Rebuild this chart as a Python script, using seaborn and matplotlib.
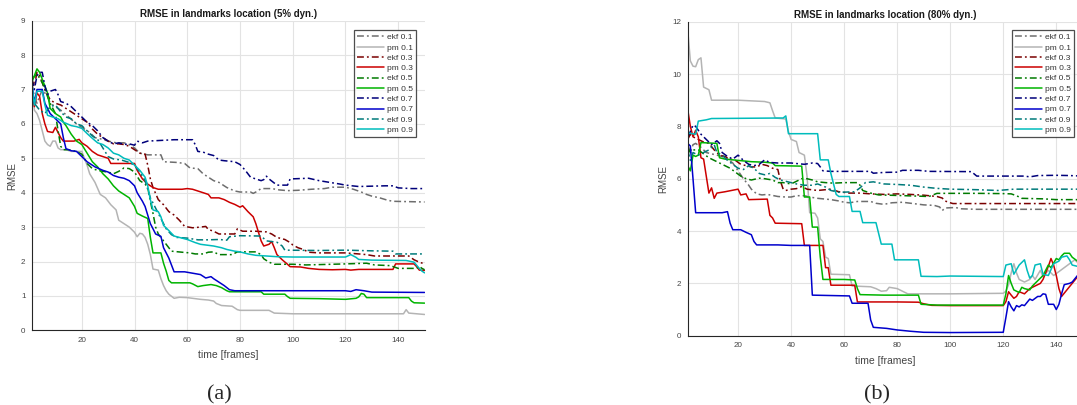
import matplotlib.pyplot as plt
import pandas as pd
import seaborn as sns

# (frame, rmse) points -- (a) 5% dynamic scene
a_ekf01 = [(1, 7.2), (2, 6.8), (3, 6.6), (5, 7.0), (7, 6.8), (8, 6.6), (10, 6.5), (12, 6.4), (15, 6.2), (18, 6.0),
           (20, 5.9), (23, 5.75), (25, 5.6), (28, 5.55), (30, 5.5), (33, 5.45), (36, 5.45), (38, 5.4), (40, 5.3),
           (42, 5.15), (45, 5.1), (50, 5.1), (51, 4.9), (56, 4.88), (59, 4.85), (61, 4.72), (64, 4.7), (66, 4.55),
           (68, 4.45), (70, 4.35), (72, 4.3), (75, 4.15), (78, 4.05), (80, 4.02), (84, 4.02), (85, 3.98), (86, 4.02),
           (88, 4.12), (92, 4.12), (95, 4.08), (98, 4.06), (102, 4.07), (107, 4.1), (112, 4.12), (115, 4.16),
           (120, 4.16), (123, 4.1), (126, 4.02), (128, 3.95), (130, 3.9), (133, 3.85), (136, 3.78), (138, 3.75),
           (150, 3.73)]
a_pm01 = [(1, 7.6), (2, 6.4), (3, 6.3), (4, 6.1), (5, 5.8), (6, 5.5), (7, 5.4), (8, 5.35), (9, 5.5), (10, 5.5),
          (11, 5.3), (12, 5.25), (14, 5.25), (16, 5.2), (20, 5.2), (21, 5.0), (22, 4.8), (23, 4.55), (25, 4.3),
          (27, 3.95), (29, 3.85), (31, 3.65), (33, 3.5), (34, 3.2), (36, 3.1), (38, 3.0), (40, 2.85), (41, 2.72),
          (42, 2.82), (43, 2.8), (44, 2.7), (45, 2.5), (46, 2.2), (47, 1.78), (49, 1.75), (50, 1.5), (51, 1.3),
          (52, 1.15), (53, 1.05), (55, 0.93), (57, 0.96), (60, 0.95), (63, 0.92), (65, 0.9), (68, 0.88), (70, 0.85),
          (71, 0.78), (73, 0.72), (77, 0.7), (79, 0.6), (80, 0.58), (91, 0.58), (93, 0.5), (100, 0.48), (142, 0.48),
          (143, 0.6), (144, 0.5), (150, 0.46)]
a_ekf03 = [(1, 7.3), (2, 7.1), (3, 7.5), (4, 7.4), (5, 7.2), (6, 7.0), (8, 6.7), (10, 6.6), (12, 6.55), (14, 6.45),
           (16, 6.35), (18, 6.25), (20, 6.15), (22, 6.05), (24, 5.85), (26, 5.7), (28, 5.6), (30, 5.5), (32, 5.42),
           (34, 5.42), (36, 5.4), (38, 5.35), (40, 5.25), (42, 5.15), (44, 5.12), (45, 4.8), (46, 4.4), (47, 4.15),
           (49, 3.8), (51, 3.65), (53, 3.45), (55, 3.35), (57, 3.2), (59, 3.02), (62, 2.98), (65, 3.0), (67, 3.02),
           (68, 2.93), (70, 2.88), (72, 2.8), (78, 2.8), (79, 2.95), (81, 2.88), (86, 2.88), (90, 2.86), (92, 2.8),
           (94, 2.7), (97, 2.64), (99, 2.55), (100, 2.48), (102, 2.4), (104, 2.35), (106, 2.27), (110, 2.25),
           (120, 2.25), (125, 2.22), (128, 2.2), (131, 2.16), (144, 2.16), (146, 2.05), (148, 1.98), (150, 1.93)]
a_pm03 = [(1, 7.0), (2, 6.5), (3, 6.9), (4, 6.8), (5, 6.3), (6, 6.0), (7, 5.78), (9, 5.75), (10, 5.9), (11, 5.75),
          (12, 5.6), (13, 5.5), (17, 5.5), (19, 5.55), (20, 5.45), (22, 5.35), (24, 5.2), (26, 5.1), (28, 5.05),
          (30, 5.0), (31, 4.85), (40, 4.85), (41, 4.65), (43, 4.4), (45, 4.25), (47, 4.15), (49, 4.1), (58, 4.1),
          (60, 4.12), (62, 4.1), (64, 4.05), (66, 4.0), (68, 3.95), (69, 3.85), (72, 3.85), (74, 3.8), (76, 3.72),
          (78, 3.66), (80, 3.58), (81, 3.62), (83, 3.45), (85, 3.3), (86, 3.1), (87, 2.85), (88, 2.6), (89, 2.45),
          (91, 2.5), (92, 2.58), (93, 2.4), (94, 2.2), (96, 2.05), (98, 1.92), (99, 1.85), (103, 1.84), (106, 1.8),
          (110, 1.77), (115, 1.76), (120, 1.77), (122, 1.75), (125, 1.77), (138, 1.77), (139, 1.93), (146, 1.93),
          (147, 1.85), (148, 1.75), (150, 1.74)]
a_ekf05 = [(1, 7.3), (3, 7.45), (5, 7.2), (6, 7.0), (7, 6.8), (8, 6.6), (10, 6.3), (11, 5.8), (12, 5.35), (13, 5.25),
           (15, 5.25), (18, 5.2), (20, 5.12), (21, 5.0), (22, 4.85), (24, 4.7), (26, 4.65), (28, 4.62), (30, 4.6),
           (32, 4.55), (34, 4.62), (36, 4.72), (38, 4.7), (40, 4.6), (42, 4.35), (44, 4.25), (45, 4.15), (46, 3.75),
           (47, 3.4), (48, 3.0), (49, 2.8), (51, 2.6), (53, 2.4), (54, 2.3), (58, 2.27), (61, 2.25), (63, 2.22),
           (66, 2.22), (68, 2.27), (70, 2.28), (72, 2.2), (77, 2.2), (79, 2.28), (86, 2.28), (88, 2.2), (89, 2.08),
           (91, 1.98), (93, 1.92), (100, 1.92), (105, 1.9), (115, 1.92), (120, 1.93), (128, 1.95), (131, 1.9),
           (137, 1.88), (140, 1.8), (147, 1.8), (148, 1.86), (149, 1.8), (150, 1.76)]
a_pm05 = [(1, 7.2), (2, 7.4), (3, 7.6), (4, 7.5), (5, 7.3), (6, 7.1), (7, 6.9), (8, 6.45), (10, 6.3), (12, 6.2),
          (13, 6.05), (14, 5.95), (16, 5.7), (18, 5.5), (20, 5.4), (22, 5.15), (24, 4.9), (26, 4.75), (28, 4.55),
          (30, 4.4), (32, 4.2), (34, 4.05), (36, 3.95), (38, 3.85), (40, 3.6), (41, 3.4), (43, 3.32), (45, 3.25),
          (46, 2.7), (47, 2.25), (50, 2.25), (51, 1.95), (52, 1.72), (53, 1.45), (54, 1.38), (61, 1.38), (62, 1.35),
          (64, 1.27), (66, 1.3), (69, 1.33), (71, 1.3), (73, 1.24), (75, 1.15), (76, 1.12), (88, 1.12), (89, 1.05),
          (97, 1.05), (98, 0.98), (99, 0.93), (110, 0.92), (120, 0.9), (124, 0.93), (125, 0.97), (126, 1.07),
          (127, 1.05), (128, 0.95), (144, 0.95), (145, 0.85), (146, 0.8), (150, 0.79)]
a_ekf07 = [(1, 7.3), (2, 7.0), (3, 7.4), (4, 7.5), (5, 7.5), (6, 7.1), (7, 6.85), (8, 6.95), (10, 7.0), (11, 6.85),
           (12, 6.65), (14, 6.6), (16, 6.5), (18, 6.35), (20, 6.2), (22, 6.05), (24, 5.95), (26, 5.8), (28, 5.6),
           (30, 5.5), (32, 5.42), (34, 5.45), (36, 5.4), (38, 5.42), (40, 5.38), (41, 5.5), (43, 5.45), (45, 5.5),
           (50, 5.52), (55, 5.54), (62, 5.54), (63, 5.4), (64, 5.2), (66, 5.18), (68, 5.12), (70, 5.08), (72, 4.95),
           (74, 4.93), (78, 4.9), (80, 4.82), (82, 4.65), (84, 4.45), (86, 4.4), (88, 4.35), (89, 4.38), (90, 4.48),
           (91, 4.4), (93, 4.28), (94, 4.22), (98, 4.22), (99, 4.4), (106, 4.42), (110, 4.35), (114, 4.3),
           (118, 4.25), (120, 4.22), (125, 4.18), (130, 4.19), (135, 4.2), (138, 4.2), (140, 4.14), (145, 4.12),
           (150, 4.12)]
a_pm07 = [(1, 7.2), (2, 6.6), (3, 7.0), (5, 7.0), (6, 6.6), (8, 6.3), (10, 6.15), (12, 6.0), (13, 5.6), (14, 5.28),
          (16, 5.22), (18, 5.2), (20, 5.05), (22, 4.9), (25, 4.75), (28, 4.65), (30, 4.6), (32, 4.5), (34, 4.45),
          (36, 4.42), (38, 4.35), (40, 4.2), (41, 4.0), (43, 3.75), (44, 3.6), (45, 3.35), (46, 3.1), (47, 2.95),
          (48, 2.8), (50, 2.73), (51, 2.4), (52, 2.25), (53, 2.1), (54, 1.9), (55, 1.7), (59, 1.7), (62, 1.66),
          (65, 1.62), (67, 1.52), (69, 1.56), (70, 1.5), (72, 1.4), (74, 1.3), (76, 1.18), (78, 1.15), (100, 1.15),
          (120, 1.15), (122, 1.13), (124, 1.18), (127, 1.15), (130, 1.11), (150, 1.1)]
a_ekf09 = [(1, 7.0), (2, 6.6), (4, 6.4), (6, 6.3), (8, 6.5), (10, 6.55), (12, 6.35), (14, 6.2), (16, 6.15), (18, 6.0),
           (20, 5.95), (22, 5.8), (24, 5.65), (26, 5.55), (28, 5.3), (30, 5.05), (32, 4.98), (35, 4.95), (38, 4.88),
           (40, 4.8), (42, 4.6), (44, 4.35), (46, 3.85), (48, 3.55), (50, 3.25), (52, 2.95), (54, 2.78), (56, 2.7),
           (60, 2.68), (64, 2.63), (68, 2.63), (72, 2.64), (75, 2.62), (76, 2.72), (80, 2.75), (88, 2.74), (90, 2.6),
           (94, 2.56), (96, 2.45), (97, 2.33), (110, 2.32), (120, 2.33), (130, 2.31), (138, 2.3), (139, 2.22),
           (150, 2.22)]
a_pm09 = [(1, 7.2), (2, 6.55), (3, 6.95), (5, 6.95), (6, 6.55), (7, 6.25), (9, 6.2), (11, 6.15), (13, 6.05), (16, 5.95),
          (18, 5.92), (20, 5.87), (22, 5.72), (24, 5.58), (26, 5.45), (28, 5.4), (30, 5.3), (32, 5.15), (34, 5.1),
          (36, 5.0), (38, 4.95), (40, 4.8), (42, 4.65), (44, 4.45), (45, 4.2), (46, 3.8), (47, 3.5), (49, 3.45),
          (50, 3.3), (51, 3.05), (53, 2.9), (55, 2.74), (58, 2.68), (60, 2.64), (63, 2.55), (65, 2.5), (70, 2.45),
          (73, 2.4), (75, 2.35), (78, 2.3), (80, 2.28), (83, 2.22), (86, 2.18), (90, 2.16), (94, 2.14), (100, 2.13),
          (120, 2.13), (122, 2.2), (124, 2.12), (125, 2.06), (130, 2.04), (143, 2.03), (146, 1.98), (148, 1.8),
          (149, 1.72), (150, 1.67)]

# (b) 80% dynamic scene
b_ekf01 = [(1, 7.3), (2, 7.0), (3, 7.3), (4, 7.35), (6, 7.2), (8, 7.0), (10, 6.95), (12, 6.9), (14, 6.85), (16, 6.75),
           (18, 6.6), (20, 6.3), (22, 6.0), (24, 5.75), (25, 5.6), (27, 5.42), (29, 5.38), (31, 5.4), (35, 5.32),
           (38, 5.3), (40, 5.3), (42, 5.35), (45, 5.35), (47, 5.3), (50, 5.25), (55, 5.2), (58, 5.15), (60, 5.1),
           (62, 5.08), (65, 5.13), (70, 5.13), (72, 5.06), (75, 5.02), (78, 5.08), (82, 5.1), (86, 5.05), (90, 5.0),
           (94, 4.98), (96, 4.92), (97, 4.78), (98, 4.88), (102, 4.9), (104, 4.85), (110, 4.83), (150, 4.83)]
b_pm01 = [(1, 11.7), (2, 10.5), (3, 10.3), (4, 10.28), (5, 10.55), (6, 10.62), (7, 9.5), (8, 9.45), (9, 9.4), (10, 9.0),
          (20, 9.0), (30, 8.95), (32, 8.9), (33, 8.6), (34, 8.32), (38, 8.28), (39, 7.8), (40, 7.5), (42, 7.42),
          (43, 7.0), (45, 6.9), (46, 6.1), (47, 4.7), (49, 4.68), (50, 4.5), (51, 3.7), (52, 3.6), (53, 3.0),
          (54, 2.95), (55, 2.35), (62, 2.33), (63, 1.9), (70, 1.87), (72, 1.8), (74, 1.7), (76, 1.72), (77, 1.85),
          (80, 1.8), (82, 1.7), (84, 1.6), (100, 1.6), (120, 1.62), (121, 1.7), (122, 1.95), (123, 2.4), (124, 2.75),
          (125, 2.4), (126, 2.15), (128, 2.05), (130, 2.15), (131, 2.3), (132, 2.15), (134, 2.5), (135, 2.25),
          (137, 2.5), (139, 2.3), (141, 2.45), (143, 2.6), (145, 2.75), (147, 2.9), (148, 2.8), (150, 2.85)]
b_ekf03 = [(1, 7.5), (2, 7.7), (3, 7.6), (5, 7.5), (7, 7.4), (9, 7.35), (11, 7.1), (13, 6.9), (15, 6.85), (17, 6.75),
           (19, 6.7), (21, 6.55), (23, 6.5), (25, 6.45), (27, 6.45), (29, 6.55), (31, 6.5), (33, 6.4), (35, 6.35),
           (36, 5.9), (37, 5.6), (38, 5.55), (40, 5.6), (42, 5.62), (44, 5.7), (46, 5.6), (50, 5.55), (55, 5.6),
           (58, 5.5), (62, 5.45), (66, 5.45), (70, 5.42), (75, 5.4), (80, 5.42), (85, 5.4), (90, 5.37), (95, 5.32),
           (97, 5.26), (98, 5.15), (100, 5.08), (101, 5.05), (150, 5.05)]
b_pm03 = [(1, 8.65), (2, 8.0), (3, 7.6), (4, 7.85), (5, 7.6), (6, 6.8), (7, 6.75), (8, 6.1), (9, 5.45), (10, 5.65),
          (11, 5.25), (12, 5.45), (15, 5.5), (20, 5.6), (21, 5.38), (23, 5.42), (24, 5.2), (31, 5.22), (32, 4.6),
          (33, 4.5), (34, 4.3), (44, 4.28), (45, 3.45), (52, 3.45), (53, 2.6), (54, 2.6), (55, 1.93), (64, 1.93),
          (65, 1.29), (80, 1.29), (88, 1.28), (90, 1.22), (93, 1.16), (100, 1.15), (120, 1.15), (121, 1.3),
          (122, 1.68), (123, 1.55), (124, 1.43), (125, 1.5), (126, 1.68), (128, 1.6), (130, 1.8), (132, 1.9),
          (134, 2.0), (135, 2.15), (136, 2.4), (137, 2.65), (138, 2.95), (139, 2.7), (140, 2.3), (141, 1.8),
          (142, 1.5), (144, 1.75), (146, 2.0), (148, 2.25), (150, 2.3)]
b_ekf05 = [(1, 7.2), (2, 7.0), (3, 7.1), (5, 7.1), (7, 6.95), (9, 6.8), (11, 6.7), (13, 6.6), (15, 6.5), (17, 6.4),
           (19, 6.25), (21, 6.1), (23, 6.0), (25, 5.95), (28, 6.02), (30, 6.0), (33, 5.95), (35, 5.85), (37, 5.85),
           (40, 5.8), (42, 5.9), (44, 6.0), (46, 6.0), (48, 5.95), (50, 5.88), (53, 5.85), (56, 5.83), (60, 5.85),
           (65, 5.85), (66, 5.75), (67, 5.55), (70, 5.45), (73, 5.38), (80, 5.36), (86, 5.34), (92, 5.32), (95, 5.44),
           (110, 5.44), (120, 5.43), (123, 5.42), (125, 5.35), (127, 5.25), (135, 5.23), (140, 5.2), (150, 5.2)]
b_pm05 = [(1, 6.5), (2, 6.3), (3, 6.9), (4, 6.85), (5, 6.9), (6, 7.38), (10, 7.36), (12, 7.35), (13, 6.8), (15, 6.75),
          (20, 6.7), (25, 6.65), (30, 6.63), (33, 6.6), (34, 6.5), (44, 6.48), (45, 5.3), (47, 5.3), (48, 4.15),
          (50, 4.15), (51, 3.0), (52, 2.15), (60, 2.15), (64, 2.13), (65, 1.8), (66, 1.57), (75, 1.55), (88, 1.55),
          (89, 1.2), (95, 1.17), (120, 1.17), (121, 1.6), (122, 2.3), (123, 2.0), (124, 1.75), (126, 1.65),
          (127, 1.85), (128, 1.8), (130, 1.75), (131, 1.9), (133, 2.1), (135, 2.3), (137, 2.7), (138, 2.6),
          (140, 2.95), (141, 2.9), (142, 3.05), (143, 3.15), (145, 3.15), (146, 3.0), (148, 2.85), (150, 2.8)]
b_ekf07 = [(1, 7.6), (2, 7.8), (3, 8.05), (4, 8.0), (6, 7.7), (8, 7.5), (10, 7.3), (12, 7.45), (13, 7.35), (14, 7.0),
           (16, 6.85), (18, 6.75), (20, 6.9), (22, 6.7), (24, 6.55), (26, 6.5), (28, 6.55), (30, 6.72), (32, 6.62),
           (35, 6.6), (40, 6.6), (45, 6.55), (48, 6.6), (50, 6.58), (51, 6.45), (52, 6.3), (55, 6.28), (70, 6.28),
           (71, 6.21), (75, 6.24), (80, 6.25), (82, 6.32), (88, 6.32), (92, 6.28), (108, 6.27), (110, 6.1),
           (128, 6.1), (130, 6.07), (133, 6.12), (140, 6.13), (145, 6.12), (150, 6.1)]
b_pm07 = [(1, 7.35), (2, 7.25), (3, 6.0), (4, 4.7), (14, 4.7), (16, 4.74), (17, 4.3), (18, 4.05), (21, 4.05),
          (23, 3.95), (25, 3.86), (26, 3.6), (27, 3.47), (35, 3.47), (40, 3.45), (47, 3.45), (48, 1.55), (62, 1.52),
          (63, 1.24), (69, 1.24), (70, 0.6), (71, 0.32), (76, 0.28), (80, 0.22), (85, 0.17), (90, 0.13), (100, 0.12),
          (120, 0.13), (121, 0.7), (122, 1.3), (123, 1.1), (124, 0.95), (125, 1.15), (126, 1.1), (127, 1.18),
          (128, 1.15), (130, 1.4), (131, 1.35), (133, 1.5), (134, 1.5), (135, 1.6), (136, 1.58), (137, 1.2),
          (139, 1.2), (140, 1.0), (141, 1.2), (142, 1.6), (143, 1.95), (145, 2.0), (146, 2.05), (148, 2.3),
          (150, 2.4)]
b_ekf09 = [(1, 7.1), (2, 6.7), (3, 7.0), (5, 6.9), (7, 7.0), (9, 7.1), (11, 7.3), (12, 7.0), (14, 6.9), (16, 6.7),
           (18, 6.55), (20, 6.4), (22, 6.35), (24, 6.5), (26, 6.4), (28, 6.2), (30, 6.15), (32, 6.2), (34, 6.05),
           (36, 5.95), (38, 5.9), (40, 5.85), (42, 5.8), (45, 5.75), (48, 5.75), (50, 5.8), (53, 5.68), (55, 5.55),
           (58, 5.48), (64, 5.5), (66, 5.65), (68, 5.85), (71, 5.88), (75, 5.8), (80, 5.78), (85, 5.75), (90, 5.68),
           (95, 5.63), (100, 5.6), (110, 5.58), (118, 5.55), (124, 5.6), (150, 5.6)]
b_pm09 = [(1, 7.75), (4, 7.7), (5, 8.2), (8, 8.25), (10, 8.3), (37, 8.32), (38, 8.4), (39, 7.72), (50, 7.72),
          (51, 6.72), (54, 6.72), (55, 6.2), (56, 5.8), (57, 5.4), (58, 5.32), (62, 5.32), (63, 4.75), (66, 4.75),
          (67, 4.32), (72, 4.32), (74, 3.5), (78, 3.5), (79, 2.9), (88, 2.9), (89, 2.27), (95, 2.26), (100, 2.28),
          (110, 2.27), (120, 2.26), (121, 2.7), (123, 2.75), (124, 2.35), (126, 2.7), (128, 2.9), (129, 2.5),
          (130, 2.2), (131, 2.3), (132, 2.7), (134, 2.75), (135, 2.35), (137, 2.3), (139, 2.75), (141, 2.85),
          (142, 3.0), (144, 3.05), (145, 2.9), (146, 2.7), (148, 2.65), (150, 2.6)]

labels = ['ekf 0.1', 'pm 0.1', 'ekf 0.3', 'pm 0.3', 'ekf 0.5', 'pm 0.5', 'ekf 0.7', 'pm 0.7', 'ekf 0.9', 'pm 0.9']
colors = ['#6e6e6e', '#b4b4b4', '#7a0000', '#cc0000', '#007a00', '#00b400', '#00007a', '#0000cc', '#007a7a', '#00bcbc']
panel_a = [a_ekf01, a_pm01, a_ekf03, a_pm03, a_ekf05, a_pm05, a_ekf07, a_pm07, a_ekf09, a_pm09]
panel_b = [b_ekf01, b_pm01, b_ekf03, b_pm03, b_ekf05, b_pm05, b_ekf07, b_pm07, b_ekf09, b_pm09]


def long_form(series):
    rows = []
    for name, pts in zip(labels, series):
        for t, v in pts:
            rows.append((name, t, v))
    return pd.DataFrame(rows, columns=['run', 'frame', 'rmse'])


sns.set_style('white')
plt.rcParams['font.family'] = ['Liberation Sans', 'DejaVu Sans']

W, H = 1077, 405
fig = plt.figure(figsize=(W / 100, H / 100), dpi=100)
# axes boxes in pixels: left, top, right, bottom
boxes = [(31.7, 20.7, 424.6, 330.3), (687.7, 21.7, 1082.8, 335.7)]
titles = ['RMSE in landmarks location (5% dyn.)', 'RMSE in landmarks location (80% dyn.)']
ymax = [9, 12]
ystep = [1, 2]
captions = [('(a)', 219), ('(b)', 877)]

palette = dict(zip(labels, colors))
dashes = {lab: ((4.5, 2.0, 1.2, 2.0) if lab.startswith('ekf') else '') for lab in labels}

for k, series in enumerate([panel_a, panel_b]):
    l, t, r, b = boxes[k]
    ax = fig.add_axes([l / W, 1 - b / H, (r - l) / W, (b - t) / H])
    df = long_form(series)
    sns.lineplot(data=df, x='frame', y='rmse', hue='run', style='run', palette=palette, dashes=dashes,
                 estimator=None, sort=False, linewidth=1.1, ax=ax)
    ax.set_xlim(1, 150)
    ax.set_ylim(0, ymax[k])
    ax.set_xticks(range(20, 150, 20))
    ax.set_yticks(range(0, ymax[k] + 1, ystep[k]))
    ax.grid(True, color='#e3e3e3', linewidth=0.8)
    ax.set_axisbelow(True)
    for side in ['top', 'right']:
        ax.spines[side].set_visible(False)
    for side in ['left', 'bottom']:
        ax.spines[side].set_color('#262626')
        ax.spines[side].set_linewidth(0.8)
    ax.tick_params(direction='in', length=2.5, width=0.6, color='#262626', labelsize=5.8, labelcolor='#444444',
                   pad=4.5)
    ax.set_title(titles[k], fontsize=7, fontweight='bold', color='#1a1a1a', pad=3)
    ax.set_xlabel('time [frames]', fontsize=7.5, color='#444444', labelpad=5)
    ax.set_ylabel('RMSE', fontsize=7, color='#444444', labelpad=3)

    handles, labs = ax.get_legend_handles_labels()
    leg = ax.legend(handles, labs, loc='upper right', bbox_to_anchor=((r - 8.5) / W, 1 - 30 / H),
                    bbox_transform=fig.transFigure, borderaxespad=0, fontsize=6, frameon=True, fancybox=False,
                    handlelength=3.2, handletextpad=0.35, labelspacing=0.3, borderpad=0.4)
    leg.get_frame().set_edgecolor('#222222')
    leg.get_frame().set_linewidth(0.9)
    for txt in leg.get_texts():
        txt.set_color('#333333')

    cap, cx = captions[k]
    fig.text(cx / W, 1 - 395 / H, cap, ha='center', va='center', fontsize=16, family='Liberation Serif')

fig.savefig('out.png', dpi=100)
